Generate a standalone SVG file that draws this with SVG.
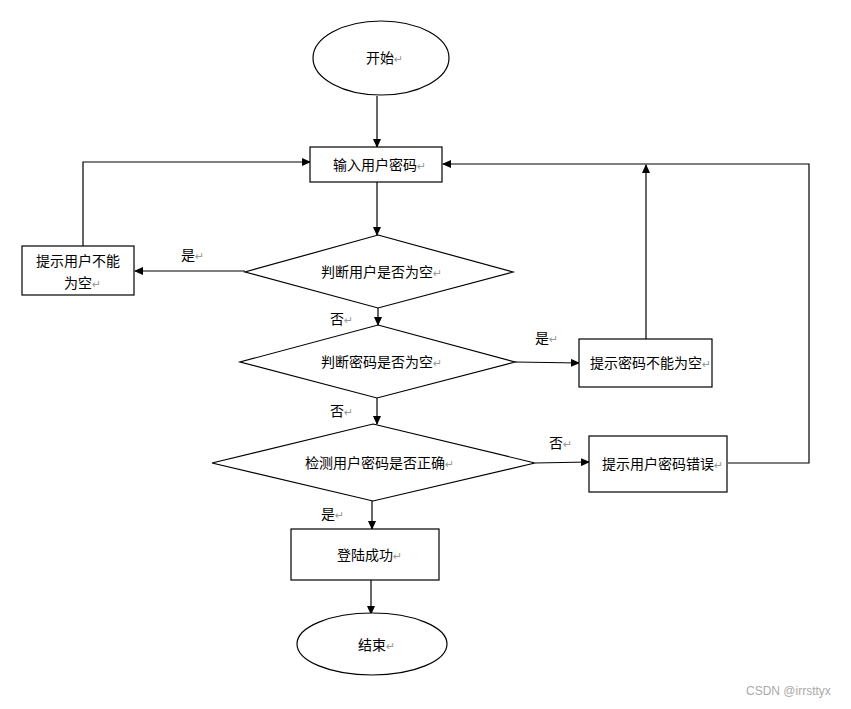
<svg xmlns="http://www.w3.org/2000/svg" width="851" height="709" viewBox="0 0 851 709">
<style>
.s{fill:#fff;stroke:#000;stroke-width:1.2}
.c{fill:none;stroke:#000;stroke-width:1.2}
text{font-family:"Liberation Sans","Noto Sans CJK SC",sans-serif;font-size:14px;fill:#000}
.m{fill:#999;font-size:11px;font-family:"DejaVu Sans","Noto Sans CJK SC",sans-serif}
.w{fill:#aaa;font-size:12px}
</style>
<defs>
<marker id="a" markerWidth="9" markerHeight="8" refX="8" refY="4" orient="auto" markerUnits="userSpaceOnUse">
<path d="M0,0 L9,4 L0,8 Z" fill="#000"/>
</marker>
</defs>
<rect width="851" height="709" fill="#fff"/>
<g id="connectors">
<path class="c" d="M377,96 V147" marker-end="url(#a)"/>
<path class="c" d="M377,182 V235" marker-end="url(#a)"/>
<path class="c" d="M245,271 H135" marker-end="url(#a)"/>
<path class="c" d="M83,246 V162 H310" marker-end="url(#a)"/>
<path class="c" d="M378,308 V325" marker-end="url(#a)"/>
<path class="c" d="M515,362 L579,363" marker-end="url(#a)"/>
<path class="c" d="M646,339 V165" marker-end="url(#a)"/>
<path class="c" d="M377,398 V424" marker-end="url(#a)"/>
<path class="c" d="M535,463 L589,462" marker-end="url(#a)"/>
<path class="c" d="M728,463 H809 V164 H443" marker-end="url(#a)"/>
<path class="c" d="M372,501 V529" marker-end="url(#a)"/>
<path class="c" d="M371,580 V614" marker-end="url(#a)"/>
<text x="181" y="260">是<tspan class="m">↵</tspan></text>
<text x="330" y="324">否<tspan class="m">↵</tspan></text>
<text x="535" y="343">是<tspan class="m">↵</tspan></text>
<text x="330" y="416">否<tspan class="m">↵</tspan></text>
<text x="549" y="448">否<tspan class="m">↵</tspan></text>
<text x="321" y="519">是<tspan class="m">↵</tspan></text>
</g>
<g id="start">
<ellipse class="s" cx="381" cy="58" rx="68" ry="37"/>
<text x="366" y="63">开始<tspan class="m">↵</tspan></text>
</g>
<g id="input">
<rect class="s" x="310" y="147" width="132" height="35"/>
<text x="333" y="170">输入用户密码<tspan class="m">↵</tspan></text>
</g>
<g id="userEmpty">
<rect class="s" x="22" y="246" width="112" height="49"/>
<text x="36" y="266">提示用户不能</text>
<text x="64" y="288">为空<tspan class="m">↵</tspan></text>
</g>
<g id="checkUser">
<polygon class="s" points="378,235 513,272 378,308 245,272"/>
<text x="321" y="277">判断用户是否为空<tspan class="m">↵</tspan></text>
</g>
<g id="checkPwd">
<polygon class="s" points="378,325 515,362 377,398 240,362"/>
<text x="321" y="367">判断密码是否为空<tspan class="m">↵</tspan></text>
</g>
<g id="pwdEmpty">
<rect class="s" x="579" y="339" width="133" height="48"/>
<text x="590" y="368">提示密码不能为空<tspan class="m">↵</tspan></text>
</g>
<g id="verify">
<polygon class="s" points="373,424 535,463 373,501 212,463"/>
<text x="305" y="468">检测用户密码是否正确<tspan class="m">↵</tspan></text>
</g>
<g id="wrong">
<rect class="s" x="589" y="436" width="138" height="56"/>
<text x="602" y="469">提示用户密码错误<tspan class="m">↵</tspan></text>
</g>
<g id="success">
<rect class="s" x="291" y="529" width="148" height="51"/>
<text x="337" y="560">登陆成功<tspan class="m">↵</tspan></text>
</g>
<g id="end">
<ellipse class="s" cx="372" cy="644" rx="75" ry="31"/>
<text x="358" y="650">结束<tspan class="m">↵</tspan></text>
</g>
<text class="w" x="746" y="695">CSDN @irrsttyx</text>
</svg>
